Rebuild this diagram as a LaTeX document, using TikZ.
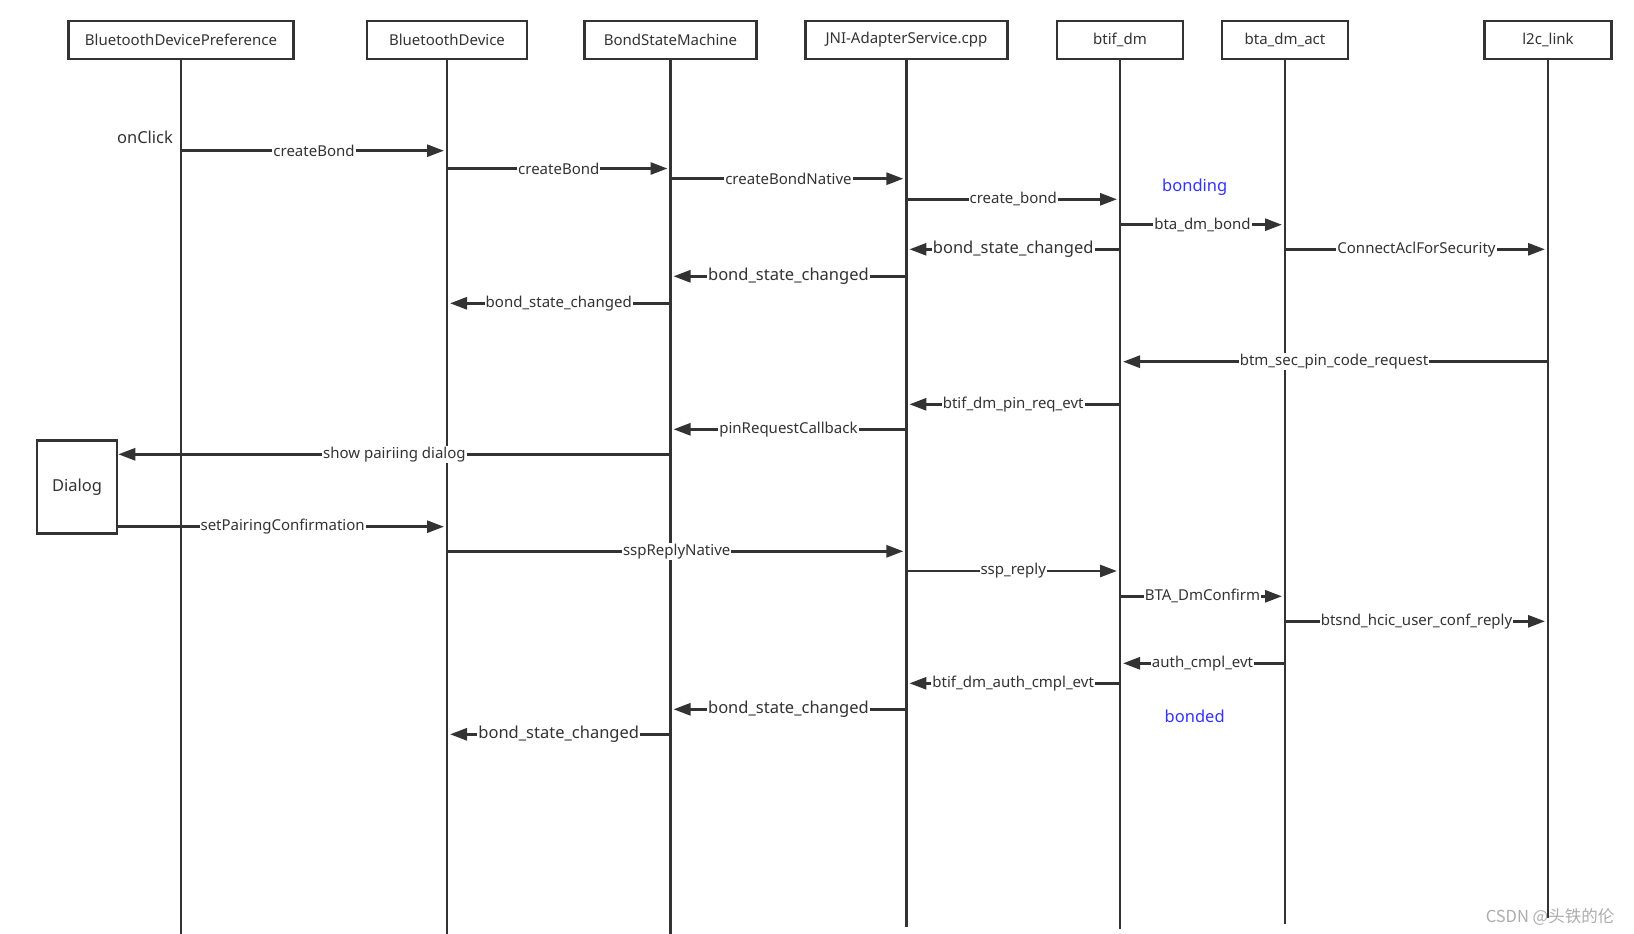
\documentclass[tikz,border=0pt]{standalone}
\usepackage{fontspec}
\setmainfont{Noto Sans}
\newfontfamily\cjkfont{Noto Sans CJK SC}
\usetikzlibrary{arrows.meta}
\definecolor{ink}{HTML}{333333}
\definecolor{stateblue}{HTML}{3333FF}
\tikzset{
  obj/.style={draw=ink, line width=2.5pt, minimum height=38pt, inner sep=0pt, text=ink, font=\fontsize{15}{18}\selectfont},
  life/.style={draw=ink, line width=2.2pt},
  msg/.style={draw=ink, line width=2.8pt, -{Triangle[length=17pt,width=12pt]}, shorten >=3pt},
  lbl/.style={fill=white, text=ink, inner sep=1pt, font=\fontsize{15}{18}\selectfont},
  biglbl/.style={lbl, font=\fontsize{16.5}{19}\selectfont},
  state/.style={text=stateblue, font=\fontsize{16.5}{19}\selectfont},
}
\begin{document}
\begin{tikzpicture}[x=1pt,y=-1pt]
    \useasboundingbox (0,0) rectangle (1634,934);

    % objects
    \node[obj, minimum width=225pt] (bdp) at (181,39.9) {BluetoothDevicePreference};
    \node[obj, minimum width=160pt] (bd) at (447,39.9) {BluetoothDevice};
    \node[obj, minimum width=172pt] (bsm) at (670.5,39.9) {BondStateMachine};
    \node[obj, minimum width=202pt] (jni) at (906.4,39.9) {JNI-AdapterService.cpp};
    \node[obj, minimum width=126pt] (btif) at (1120,39.9) {btif\_dm};
    \node[obj, minimum width=126pt] (bta) at (1285,39.9) {bta\_dm\_act};
    \node[obj, minimum width=127pt] (l2c) at (1548,39.9) {l2c\_link};
    \node[obj, minimum width=80pt, minimum height=93pt, font=\fontsize{16.5}{19}\selectfont] (dialog) at (77,486.8) {Dialog};

    % lifelines
    \draw[life] (bdp.south) -- (bdp.south |- 0,934);
    \draw[life] (bd.south) -- (bd.south |- 0,934);
    \draw[life] (bsm.south) -- (bsm.south |- 0,934);
    \draw[life] (jni.south) -- (jni.south |- 0,927);
    \draw[life] (btif.south) -- (btif.south |- 0,929);
    \draw[life] (bta.south) -- (bta.south |- 0,924);
    \draw[life] (l2c.south) -- (l2c.south |- 0,918);

    \node[text=ink, font=\fontsize{16.5}{19}\selectfont] (click) at (145,137) {onClick};
    \node[state] (bonding) at (1194.7,187.3) {bonding};
    \node[state] (bonded) at (1194.7,716) {bonded};

    % bonding
    \draw[msg] (bdp |- 0,150.7) -- node[lbl] {createBond} (bd |- 0,150.7);
    \draw[msg] (bd |- 0,168.5) -- node[lbl] {createBond} (bsm |- 0,168.5);
    \draw[msg] (bsm |- 0,178.7) -- node[lbl] {createBondNative} (jni |- 0,178.7);
    \draw[msg] (jni |- 0,199.3) -- node[lbl] {create\_bond} (btif |- 0,199.3);
    \draw[msg] (btif |- 0,224.7) -- node[lbl] {bta\_dm\_bond} (bta |- 0,224.7);
    \draw[msg] (btif |- 0,249.3) -- node[biglbl] {bond\_state\_changed} (jni |- 0,249.3);
    \draw[msg] (bta |- 0,249.3) -- node[lbl] {ConnectAclForSecurity} (l2c |- 0,249.3);
    \draw[msg] (jni |- 0,276.3) -- node[biglbl] {bond\_state\_changed} (bsm |- 0,276.3);
    \draw[msg] (bsm |- 0,303.3) -- node[lbl] {bond\_state\_changed} (bd |- 0,303.3);

    % pin request
    \draw[msg] (l2c |- 0,361.7) -- node[lbl] {btm\_sec\_pin\_code\_request} (btif |- 0,361.7);
    \draw[msg] (btif |- 0,404.3) -- node[lbl] {btif\_dm\_pin\_req\_evt} (jni |- 0,404.3);
    \draw[msg] (jni |- 0,429.3) -- node[lbl] {pinRequestCallback} (bsm |- 0,429.3);
    \draw[msg, shorten >=0pt] (bsm |- 0,454.3) -- node[lbl] {show pairiing dialog} (dialog.east |- 0,454.3);
    \draw[msg] (dialog.east |- 0,526.7) -- node[lbl] {setPairingConfirmation} (bd |- 0,526.7);

    % reply
    \draw[msg] (bd |- 0,551.3) -- node[lbl] {sspReplyNative} (jni |- 0,551.3);
    \draw[msg] (jni |- 0,571) -- node[lbl] {ssp\_reply} (btif |- 0,571);
    \draw[msg] (btif |- 0,596.3) -- node[lbl] {BTA\_DmConfirm} (bta |- 0,596.3);
    \draw[msg] (bta |- 0,621.3) -- node[lbl] {btsnd\_hcic\_user\_conf\_reply} (l2c |- 0,621.3);
    \draw[msg] (bta |- 0,663.3) -- node[lbl] {auth\_cmpl\_evt} (btif |- 0,663.3);
    \draw[msg] (btif |- 0,683.3) -- node[lbl] {btif\_dm\_auth\_cmpl\_evt} (jni |- 0,683.3);
    \draw[msg] (jni |- 0,709.3) -- node[biglbl] {bond\_state\_changed} (bsm |- 0,709.3);
    \draw[msg] (bsm |- 0,734.3) -- node[biglbl] {bond\_state\_changed} (bd |- 0,734.3);

    \node[text=gray!65, font=\cjkfont\fontsize{16.5}{19}\selectfont] (mark) at (1550,916.7) {CSDN @头铁的伦};
\end{tikzpicture}
\end{document}
